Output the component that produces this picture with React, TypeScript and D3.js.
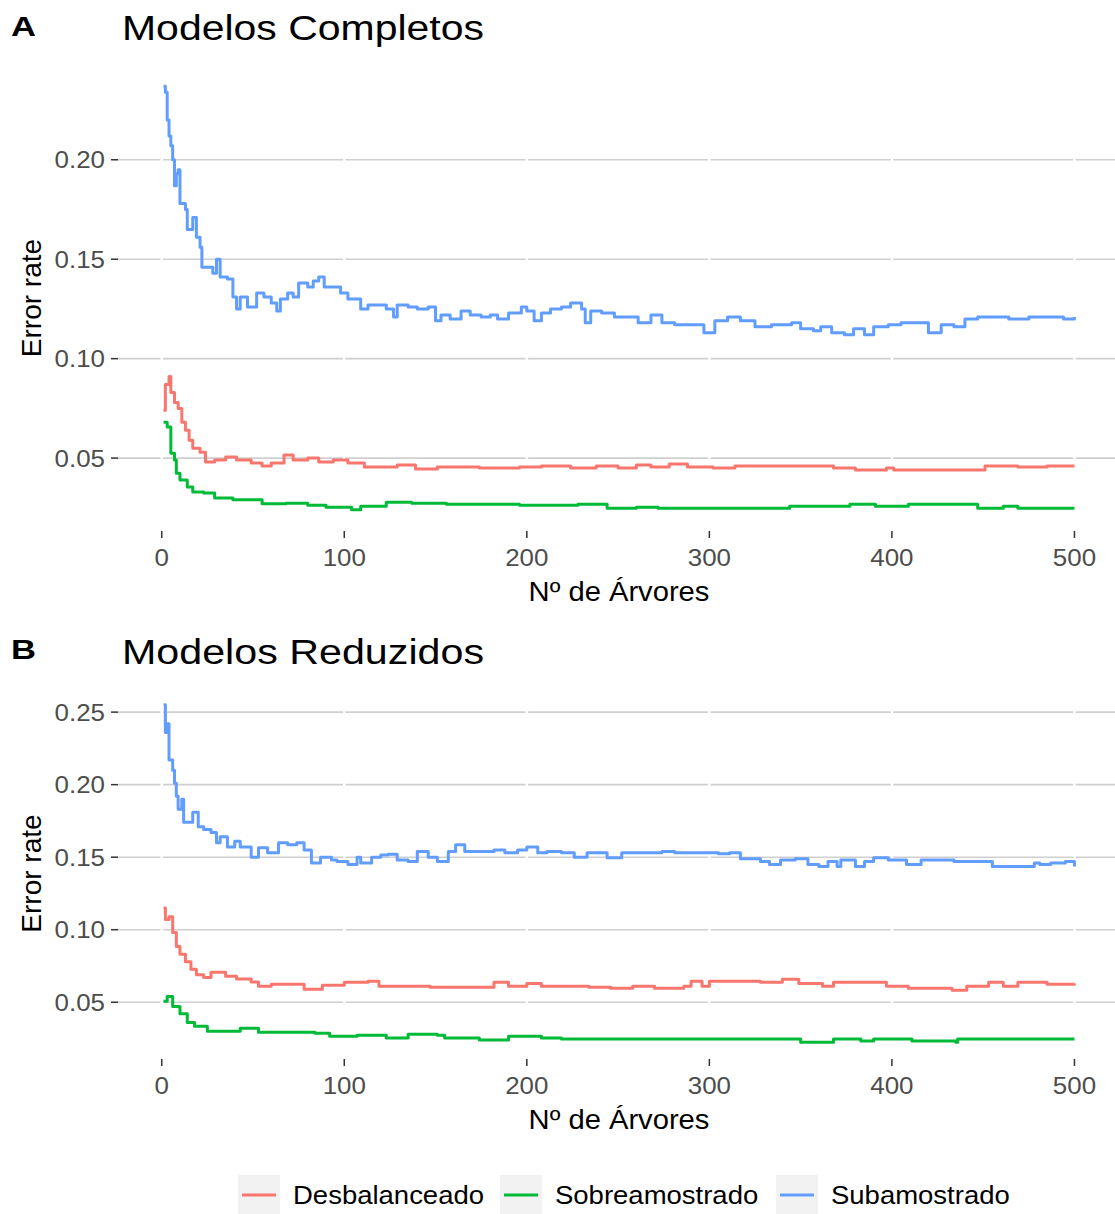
import React from "react";
import * as d3 from "d3";

// error rate vs number of trees as [tree, rate]
const completosDesbalanceado: [number, number][] = [
  [1, 0.074], [2, 0.087], [4, 0.091], [5, 0.083], [7, 0.078], [9, 0.075], [11, 0.068], [13, 0.064],
  [15, 0.059], [17, 0.055], [21, 0.053], [24, 0.048], [29, 0.049], [35, 0.0505], [41, 0.049], [49, 0.0475],
  [55, 0.046], [60, 0.0475], [67, 0.0515], [72, 0.049], [80, 0.05], [86, 0.048], [94, 0.049], [102, 0.0475],
  [111, 0.0455], [123, 0.0455], [129, 0.0465], [139, 0.0445], [151, 0.0455], [162, 0.0455], [174, 0.045],
  [186, 0.045], [196, 0.0455], [208, 0.046], [224, 0.045], [238, 0.046], [250, 0.045], [260, 0.0465],
  [268, 0.0455], [278, 0.047], [288, 0.0455], [302, 0.045], [314, 0.046], [328, 0.046], [349, 0.046],
  [359, 0.046], [368, 0.045], [380, 0.044], [397, 0.045], [401, 0.044], [429, 0.044], [446, 0.044],
  [451, 0.046], [469, 0.0455], [485, 0.046], [500, 0.046],
];
const completosSobre: [number, number][] = [
  [1, 0.068], [3, 0.0656], [5, 0.0525], [7, 0.049], [8, 0.0424], [10, 0.039], [14, 0.0355], [17, 0.033],
  [23, 0.0324], [29, 0.03], [39, 0.029], [49, 0.029], [55, 0.027], [68, 0.0273], [80, 0.0263], [90, 0.0253],
  [104, 0.024], [109, 0.0258], [123, 0.0278], [137, 0.0273], [156, 0.0268], [176, 0.0268], [196, 0.0263],
  [208, 0.0263], [228, 0.0268], [244, 0.0248], [260, 0.0253], [272, 0.0248], [308, 0.0248], [338, 0.0248],
  [344, 0.0258], [377, 0.0268], [391, 0.0258], [409, 0.0268], [427, 0.0268], [447, 0.0248], [461, 0.0258],
  [469, 0.0248], [500, 0.0248],
];
const completosSub: [number, number][] = [
  [1, 0.237], [2, 0.234], [3, 0.22], [4, 0.212], [5, 0.207], [6, 0.2], [7, 0.187], [8, 0.193], [9, 0.195],
  [10, 0.178], [13, 0.175], [14, 0.165], [17, 0.171], [19, 0.161], [21, 0.156], [22, 0.146], [25, 0.146],
  [28, 0.143], [30, 0.15], [32, 0.141], [36, 0.14], [39, 0.131], [41, 0.125], [43, 0.131], [47, 0.126],
  [52, 0.133], [56, 0.131], [60, 0.128], [63, 0.124], [65, 0.13], [69, 0.133], [72, 0.131], [75, 0.138],
  [80, 0.136], [83, 0.139], [86, 0.141], [89, 0.136], [93, 0.136], [98, 0.133], [102, 0.13], [109, 0.125],
  [113, 0.127], [118, 0.127], [123, 0.125], [127, 0.121], [129, 0.127], [135, 0.126], [140, 0.125],
  [146, 0.126], [150, 0.119], [153, 0.122], [158, 0.12], [164, 0.124], [169, 0.122], [175, 0.121],
  [180, 0.122], [184, 0.12], [190, 0.123], [197, 0.126], [200, 0.124], [204, 0.119], [208, 0.123],
  [213, 0.125], [219, 0.126], [224, 0.128], [230, 0.125], [232, 0.118], [235, 0.124], [241, 0.123],
  [248, 0.121], [255, 0.121], [261, 0.118], [268, 0.122], [274, 0.118], [281, 0.117], [288, 0.117],
  [297, 0.113], [303, 0.119], [310, 0.121], [317, 0.119], [325, 0.116], [334, 0.117], [345, 0.118],
  [350, 0.115], [357, 0.114], [361, 0.116], [367, 0.113], [374, 0.112], [379, 0.115], [385, 0.112],
  [390, 0.116], [398, 0.117], [405, 0.118], [414, 0.118], [420, 0.113], [427, 0.117], [434, 0.116],
  [440, 0.12], [447, 0.121], [453, 0.121], [462, 0.121], [464, 0.12], [471, 0.12], [475, 0.121],
  [489, 0.121], [494, 0.12], [500, 0.121],
];

const reduzidosDesbalanceado: [number, number][] = [
  [1, 0.115], [2, 0.107], [4, 0.109], [6, 0.098], [8, 0.0885], [10, 0.083], [13, 0.078], [16, 0.0727],
  [19, 0.069], [23, 0.067], [27, 0.0706], [35, 0.068], [41, 0.066], [49, 0.064], [53, 0.061], [60, 0.0624],
  [68, 0.0624], [78, 0.059], [88, 0.0617], [100, 0.0637], [113, 0.0644], [119, 0.061], [133, 0.061],
  [147, 0.0603], [166, 0.0603], [182, 0.0637], [190, 0.061], [200, 0.063], [208, 0.061], [219, 0.061],
  [234, 0.0603], [246, 0.0596], [258, 0.061], [270, 0.0596], [286, 0.061], [290, 0.0644], [296, 0.061],
  [300, 0.0644], [313, 0.0644], [328, 0.0637], [340, 0.0658], [349, 0.063], [362, 0.061], [368, 0.0637],
  [383, 0.0637], [397, 0.061], [409, 0.0596], [425, 0.0596], [433, 0.0582], [441, 0.061], [453, 0.0637],
  [461, 0.061], [469, 0.0637], [485, 0.0624], [500, 0.063],
];
const reduzidosSobre: [number, number][] = [
  [1, 0.0507], [3, 0.054], [6, 0.047], [10, 0.042], [14, 0.036], [18, 0.0335], [25, 0.03], [33, 0.03],
  [43, 0.032], [53, 0.0294], [68, 0.0294], [84, 0.0287], [92, 0.0266], [107, 0.0273], [123, 0.0253],
  [135, 0.028], [151, 0.0273], [155, 0.0253], [170, 0.0253], [174, 0.024], [190, 0.0266], [208, 0.0253],
  [219, 0.0246], [349, 0.0246], [350, 0.0225], [367, 0.0225], [368, 0.0246], [383, 0.0232], [390, 0.0246],
  [411, 0.0232], [435, 0.0225], [436, 0.0246], [500, 0.0246],
];
const reduzidosSub: [number, number][] = [
  [1, 0.255], [2, 0.236], [3, 0.242], [4, 0.217], [6, 0.21], [7, 0.201], [8, 0.192], [9, 0.183], [11, 0.19],
  [12, 0.174], [17, 0.181], [20, 0.171], [23, 0.169], [27, 0.167], [30, 0.16], [32, 0.164], [36, 0.157],
  [40, 0.161], [43, 0.157], [49, 0.15], [53, 0.1565], [58, 0.153], [64, 0.16], [69, 0.1586], [74, 0.16],
  [78, 0.155], [82, 0.146], [87, 0.15], [93, 0.148], [96, 0.147], [102, 0.145], [107, 0.15], [109, 0.146],
  [115, 0.15], [120, 0.1515], [124, 0.152], [129, 0.148], [135, 0.147], [140, 0.154], [146, 0.15],
  [151, 0.147], [157, 0.154], [161, 0.1586], [166, 0.154], [175, 0.154], [182, 0.155], [188, 0.153],
  [195, 0.155], [200, 0.157], [206, 0.153], [211, 0.154], [219, 0.153], [226, 0.15], [233, 0.153],
  [244, 0.1496], [252, 0.153], [264, 0.153], [274, 0.154], [281, 0.153], [292, 0.153], [305, 0.1524],
  [311, 0.153], [317, 0.149], [328, 0.147], [333, 0.145], [339, 0.148], [347, 0.149], [354, 0.145],
  [360, 0.1435], [365, 0.147], [370, 0.1435], [372, 0.148], [380, 0.1435], [385, 0.147], [390, 0.1496],
  [398, 0.148], [408, 0.145], [416, 0.148], [425, 0.148], [434, 0.147], [442, 0.147], [449, 0.147],
  [455, 0.1435], [471, 0.1435], [478, 0.146], [481, 0.145], [487, 0.146], [495, 0.147], [500, 0.1435],
];

const groups = ["Desbalanceado", "Sobreamostrado", "Subamostrado"];
const colors = ["#F8766D", "#00BA38", "#619CFF"];
const xTicks = [0, 100, 200, 300, 400, 500];
const yTicksA = [0.05, 0.1, 0.15, 0.2];
const yTicksB = [0.05, 0.1, 0.15, 0.2, 0.25];

const W = 1115;
const H = 1214;
const FONT = "'Liberation Sans', Arial, sans-serif";
const SX = 1.08; // picture is slightly stretched sideways

const panels = [
  {
    tag: "A", title: "Modelos Completos", top: 65, bottom: 531, yTicks: yTicksA,
    series: [completosDesbalanceado, completosSobre, completosSub],
    tagY: 36, titleY: 40,
  },
  {
    tag: "B", title: "Modelos Reduzidos", top: 688, bottom: 1059, yTicks: yTicksB,
    series: [reduzidosDesbalanceado, reduzidosSobre, reduzidosSub],
    tagY: 659, titleY: 664,
  },
];

const x = d3.scaleLinear().domain([1 - 24.95, 500 + 24.95]).range([118, 1120]);

function Panel({ p }: { p: (typeof panels)[number] }) {
  const all = p.series.flat().map((d) => d[1]);
  const [lo, hi] = d3.extent(all) as [number, number];
  const pad = (hi - lo) * 0.05;
  const y = d3.scaleLinear().domain([lo - pad, hi + pad]).range([p.bottom, p.top]);
  const line = d3
    .line<[number, number]>()
    .x((d) => x(d[0]))
    .y((d) => y(d[1]))
    .curve(d3.curveStepAfter);
  const left = x.range()[0];
  const mid = (p.top + p.bottom) / 2;

  return (
    <g>
      <text x={11} y={p.tagY} fontSize={28} fontWeight="bold" textLength={25} lengthAdjust="spacingAndGlyphs">
        {p.tag}
      </text>
      <text x={122} y={p.titleY} fontSize={35} textLength={362} lengthAdjust="spacingAndGlyphs">
        {p.title}
      </text>

      {/* grid */}
      {p.yTicks.map((t) => (
        <line key={t} x1={left} x2={W} y1={y(t)} y2={y(t)} stroke="#cfcfcf" strokeWidth={1.6} />
      ))}
      {xTicks.map((t) => (
        <line key={t} x1={x(t)} x2={x(t)} y1={p.top} y2={p.bottom} stroke="#ffffff" strokeWidth={2.5} />
      ))}

      {p.series.map((s, i) => (
        <path key={i} d={line(s) ?? ""} fill="none" stroke={colors[i]} strokeWidth={3} strokeLinejoin="round" />
      ))}

      {/* y axis */}
      {p.yTicks.map((t) => (
        <g key={t}>
          <line x1={left - 7} x2={left} y1={y(t)} y2={y(t)} stroke="#333" strokeWidth={1.5} />
          <text
            transform={`translate(${left - 13},${y(t) + 8.5}) scale(${SX},1)`}
            textAnchor="end" fontSize={24} fill="#4d4d4d"
          >
            {d3.format(".2f")(t)}
          </text>
        </g>
      ))}
      <text transform={`translate(41,${mid}) rotate(-90)`} textAnchor="middle" fontSize={28}>
        Error rate
      </text>

      {/* x axis */}
      {xTicks.map((t) => (
        <g key={t}>
          <line x1={x(t)} x2={x(t)} y1={p.bottom} y2={p.bottom + 7} stroke="#333" strokeWidth={1.5} />
          <text
            transform={`translate(${x(t)},${p.bottom + 35}) scale(${SX},1)`}
            textAnchor="middle" fontSize={24} fill="#4d4d4d"
          >
            {t}
          </text>
        </g>
      ))}
      <text
        transform={`translate(${(x.range()[0] + x.range()[1]) / 2},${p.bottom + 70}) scale(${SX},1)`}
        textAnchor="middle" fontSize={27}
      >
        Nº de Árvores
      </text>
    </g>
  );
}

const legendX = [238, 500, 776];

export default function App() {
  return (
    <div style={{ position: "absolute", left: 0, top: 0 }}>
      <svg width={W} height={H} fontFamily={FONT} style={{ display: "block", background: "#fff" }}>
        {panels.map((p) => (
          <Panel key={p.tag} p={p} />
        ))}
        {groups.map((g, i) => (
          <g key={g} transform={`translate(${legendX[i]},1175)`}>
            <rect width={42} height={40} fill="#f2f2f2" />
            <line x1={4} x2={38} y1={20} y2={20} stroke={colors[i]} strokeWidth={3} />
            <text transform={`translate(55,29) scale(1.1,1)`} fontSize={25}>
              {g}
            </text>
          </g>
        ))}
      </svg>
    </div>
  );
}
